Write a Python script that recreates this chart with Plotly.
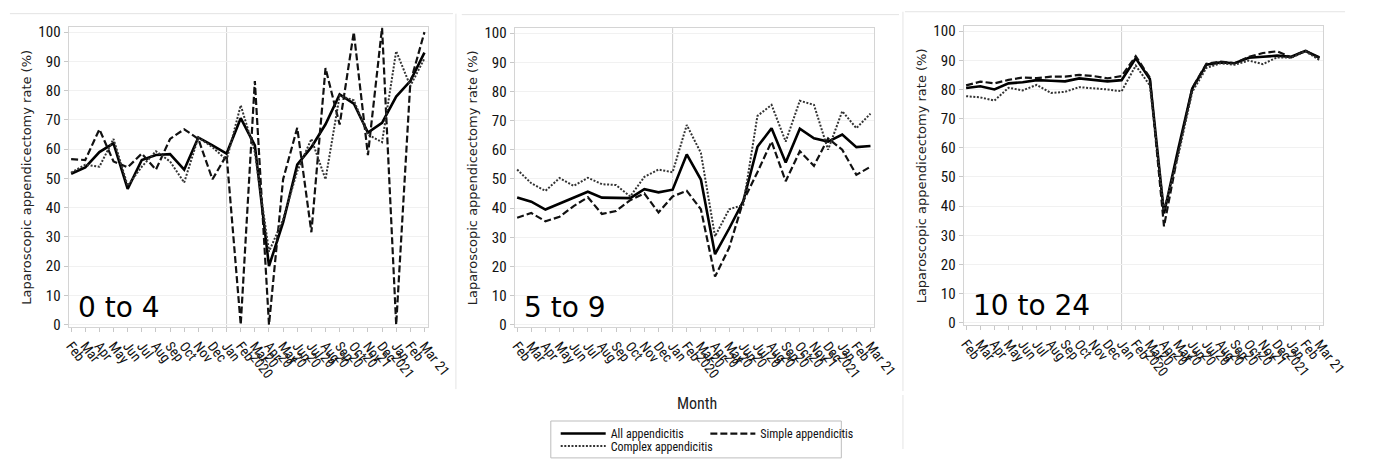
import plotly.graph_objects as go

W, H = 1373, 461
NARROW = "Roboto Condensed, DejaVu Sans Condensed, sans-serif"
WIDE = "DejaVu Sans, Verdana, sans-serif"

# ---------------- data ----------------
tick_labels = ["Feb", "Mar", "Apr", "May", "Jun", "Jul", "Aug", "Sep", "Oct", "Nov", "Dec", "Jan",
               "Feb", "Mar", "Apr<br>2020", "May<br>20", "Jun<br>20", "Jul<br>20", "Aug<br>20",
               "Sep<br>20", "Oct<br>20", "Nov<br>20", "Dec<br>20", "Jan<br>21", "Feb<br>2021", "Mar 21"]
ref_month = 11  # Jan 2020 reference line

panel_names = ["0 to 4", "5 to 9", "10 to 24"]

all_0_4 = [51.6, 53.8, 59.0, 62.0, 46.4, 56.3, 58.0, 58.3, 53.0, 64.0, 61.3, 58.5,
           70.6, 61.3, 20.0, 35.0, 54.7, 60.7, 68.5, 78.7, 75.6, 65.7, 69.0, 78.0, 83.3, 93.0]
simple_0_4 = [56.6, 56.3, 66.8, 55.8, 53.8, 58.5, 53.0, 63.5, 66.8, 63.5, 49.7, 58.0,
              0.0, 83.3, 0.0, 49.7, 67.3, 31.6, 87.7, 68.4, 100.0, 58.0, 101.5, 0.0, 82.7, 100.0]
complex_0_4 = [52.0, 54.7, 54.0, 63.5, 47.5, 54.0, 59.3, 55.8, 48.6, 64.0, 60.7, 56.3,
               75.0, 59.0, 25.0, 36.0, 52.5, 63.5, 49.7, 78.3, 76.7, 65.0, 62.4, 93.5, 81.6, 91.0]

all_5_9 = [43.6, 42.2, 39.5, 41.6, 43.7, 45.6, 43.6, 43.6, 43.4, 46.5, 45.4, 46.3,
           58.4, 49.8, 24.2, 33.0, 42.4, 61.0, 67.4, 55.6, 67.2, 63.9, 62.8, 65.2, 60.9, 61.3]
simple_5_9 = [36.7, 38.3, 35.5, 37.0, 40.7, 43.7, 38.0, 39.0, 42.7, 45.0, 38.5, 44.0,
              45.9, 39.6, 16.5, 26.4, 42.4, 52.3, 62.8, 49.2, 59.5, 54.5, 63.9, 60.0, 51.4, 54.2]
complex_5_9 = [53.2, 48.5, 45.9, 50.3, 47.6, 50.4, 48.2, 47.9, 44.0, 50.7, 53.2, 52.3,
               68.5, 58.9, 30.3, 39.6, 41.1, 71.6, 75.4, 62.8, 76.8, 75.4, 60.0, 73.2, 67.4, 72.4]

all_10_24 = [80.5, 81.1, 80.0, 82.1, 82.5, 83.2, 83.0, 82.8, 83.8, 83.3, 82.8, 83.2,
             90.7, 83.6, 37.5, 59.4, 80.3, 88.5, 89.3, 89.0, 90.9, 91.2, 91.6, 91.2, 93.2, 91.0]
simple_10_24 = [81.4, 82.7, 82.1, 83.3, 84.1, 83.9, 84.4, 84.4, 85.0, 84.6, 83.8, 84.6,
                91.4, 84.1, 33.1, 58.3, 80.5, 88.8, 89.6, 89.0, 91.2, 92.5, 93.1, 91.0, 93.4, 90.7]
complex_10_24 = [77.7, 77.3, 76.2, 80.6, 79.7, 81.6, 78.8, 79.2, 80.8, 80.5, 80.0, 79.4,
                 88.2, 81.4, 38.6, 57.2, 79.2, 87.4, 89.0, 88.5, 89.9, 88.7, 91.0, 90.9, 93.1, 90.1]

series_names = ["All appendicitis", "Simple appendicitis", "Complex appendicitis"]
panel_data = [
    [all_0_4, simple_0_4, complex_0_4],
    [all_5_9, simple_5_9, complex_5_9],
    [all_10_24, simple_10_24, complex_10_24],
]

# ---------------- styling ----------------
styles = [
    dict(color="#000000", width=2.6, dash="solid"),
    dict(color="#111111", width=2.2, dash="7px,3px"),
    dict(color="#333333", width=2.0, dash="2px,1.6px"),
]
legends = ["legend", "legend3", "legend2"]

boxes = [(65, 432, 24, 335), (521, 888, 25, 335), (980, 1347, 23, 333)]

x = list(range(len(tick_labels)))

fig = go.Figure()
for p, (vals, box) in enumerate(zip(panel_data, boxes)):
    ax = "" if p == 0 else str(p + 1)
    for s, v in enumerate(vals):
        fig.add_trace(go.Scatter(
            x=x, y=v, mode="lines", name=series_names[s],
            line=styles[s], xaxis="x" + ax, yaxis="y" + ax,
            showlegend=(p == 0), legend=legends[s], hoverinfo="skip",
        ))
    l, r, t, b = box
    common_axis = dict(showline=True, mirror=True, linecolor="#d4d4d4", linewidth=1,
                       ticks="outside", tickcolor="#c8c8c8", ticklen=4, zeroline=False)
    fig.layout["xaxis" + ax] = dict(
        domain=[l / W, r / W], anchor="y" + ax, range=[-0.18, 25.22],
        tickmode="array", tickvals=x, ticktext=tick_labels, tickangle=52,
        tickfont=dict(family=NARROW, size=14, color="#111111"),
        showgrid=False, **common_axis)
    fig.layout["yaxis" + ax] = dict(
        domain=[1 - b / H, 1 - t / H], anchor="x" + ax, range=[-0.9, 101.7],
        tickmode="array", tickvals=list(range(0, 101, 10)),
        tickfont=dict(family=NARROW, size=15, color="#111111"),
        showgrid=True, gridcolor="#f1f1f1", gridwidth=1, **common_axis)
    fig.add_shape(type="line", xref="x" + ax, yref="y" + ax + " domain",
                  x0=ref_month, x1=ref_month, y0=0, y1=1,
                  line=dict(color="#cfcfcf", width=1), layer="below")
    fig.add_annotation(text="Laparoscopic appendicectomy rate (%)", textangle=-90,
                       xref="paper", yref="paper", x=(l - 43) / W, y=1 - ((t + b) / 2) / H,
                       xanchor="center", yanchor="middle", showarrow=False,
                       font=dict(family=WIDE, size=13, color="#222222"))
    fig.add_annotation(text=panel_names[p], xref="paper", yref="paper",
                       x=(l + 8) / W, y=1 - (b - 1) / H, xanchor="left", yanchor="bottom",
                       showarrow=False, font=dict(family=WIDE, size=28, color="#000000"))

fig.add_annotation(text="Month", xref="paper", yref="paper", x=707 / W, y=1 - 414 / H,
                   xanchor="center", yanchor="middle", showarrow=False,
                   font=dict(family=NARROW, size=16, color="#222222"))

sep = dict(color="#e4e4e4", width=1)
fig.add_shape(type="line", xref="paper", yref="paper", x0=5 / W, x1=458 / W, y0=1 - 10 / H, y1=1 - 10 / H, line=sep)
fig.add_shape(type="line", xref="paper", yref="paper", x0=467 / W, x1=914 / W, y0=1 - 11 / H, y1=1 - 11 / H, line=sep)
fig.add_shape(type="line", xref="paper", yref="paper", x0=920 / W, x1=1370 / W, y0=1 - 8 / H, y1=1 - 8 / H, line=sep)
fig.add_shape(type="line", xref="paper", yref="paper", x0=461 / W, x1=461 / W, y0=1 - 399 / H, y1=1 - 10 / H, line=sep)
fig.add_shape(type="line", xref="paper", yref="paper", x0=918 / W, x1=918 / W, y0=1 - 401 / H, y1=1 - 8 / H, line=sep)
fig.add_shape(type="line", xref="paper", yref="paper", x0=918 / W, x1=918 / W, y0=0, y1=1 - 405 / H, line=sep)

fig.add_shape(type="rect", xref="paper", yref="paper", x0=558 / W, x1=855 / W, y0=-0.02, y1=1 - 432 / H,
              line=dict(color="#bdbdbd", width=1), fillcolor="rgba(0,0,0,0)")

leg_common = dict(orientation="h", xanchor="left", yanchor="middle", bgcolor="rgba(0,0,0,0)",
                  borderwidth=0, font=dict(family=NARROW, size=12, color="#111111"),
                  itemwidth=45, tracegroupgap=0, itemclick=False, itemdoubleclick=False)
fig.update_layout(
    width=W, height=H, margin=dict(l=0, r=0, t=0, b=0),
    paper_bgcolor="white", plot_bgcolor="white",
    legend=dict(x=563 / W, y=1 - 445 / H, **leg_common),
    legend3=dict(x=716 / W, y=1 - 445 / H, **leg_common),
    legend2=dict(x=563 / W, y=1 - 458 / H, **leg_common),
)

post = ("var gd=document.getElementById('{plot_id}');"
        "gd.style.position='fixed';gd.style.left='0px';gd.style.top='0px';"
        "document.body.style.margin='0';document.body.style.overflow='hidden';"
        "document.documentElement.style.overflow='hidden';")
fig.write_html("out.html", config={"displayModeBar": False}, post_script=post)
